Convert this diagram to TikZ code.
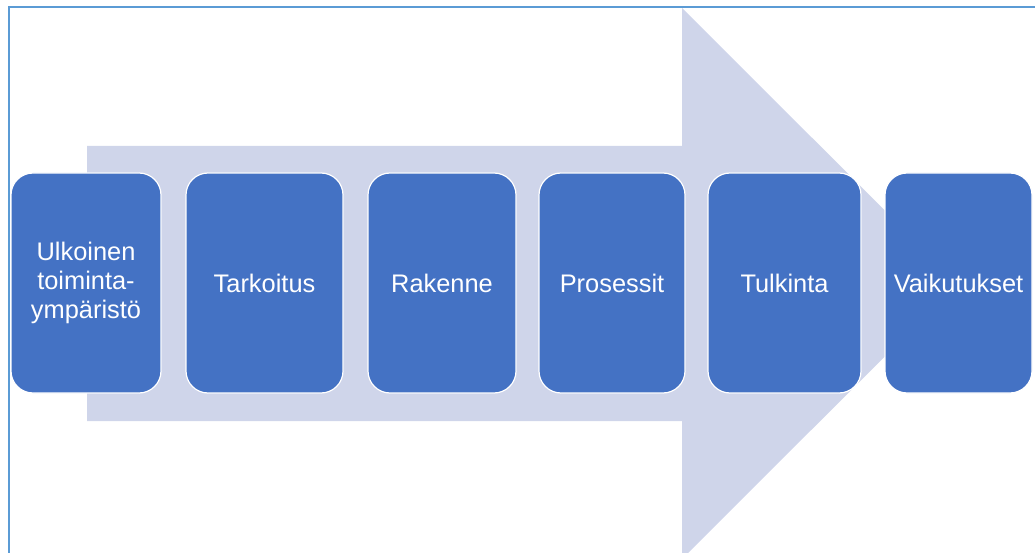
\documentclass[tikz,border=0pt]{standalone}
\usepackage{fontspec}
\setmainfont{Liberation Sans}
\definecolor{stageblue}{RGB}{68,114,196}
\definecolor{arrowfill}{RGB}{207,213,234}
\definecolor{framecol}{RGB}{91,155,213}

\begin{document}
\begin{tikzpicture}[x=1pt,y=-1pt,
  stage/.style={draw=white,line width=1.2pt,fill=stageblue,rounded corners=22pt,
    minimum height=220pt,inner sep=0pt,text=white,align=center,
    font=\fontsize{25.4}{28.6}\selectfont}]

  \useasboundingbox (0,0) rectangle (1035,553);

  \begin{scope}
    \clip (0,0) rectangle (1035,553);
    % frame and the big arrow behind the steps
    \draw[framecol,line width=2pt] (9,560) -- (9,7) -- (1040,7);
    \fill[arrowfill] (87,146) -- (682,146) -- (682,8) -- (958,283.5)
      -- (682,559) -- (682,421) -- (87,421) -- cycle;
  \end{scope}

  \node[stage,minimum width=150pt] (ulk) at (86,283) {Ulkoinen\\toiminta-\\ympäristö};
  \node[stage,minimum width=157pt] (tark) at (264.5,283) {Tarkoitus};
  \node[stage,minimum width=148pt] (rak) at (442,283) {Rakenne};
  \node[stage,minimum width=146pt] (pros) at (612,283) {Prosessit};
  \node[stage,minimum width=153pt] (tulk) at (784.5,283) {Tulkinta};
  \node[stage,minimum width=147pt] (vaik) at (958.5,283) {Vaikutukset};

\end{tikzpicture}
\end{document}
